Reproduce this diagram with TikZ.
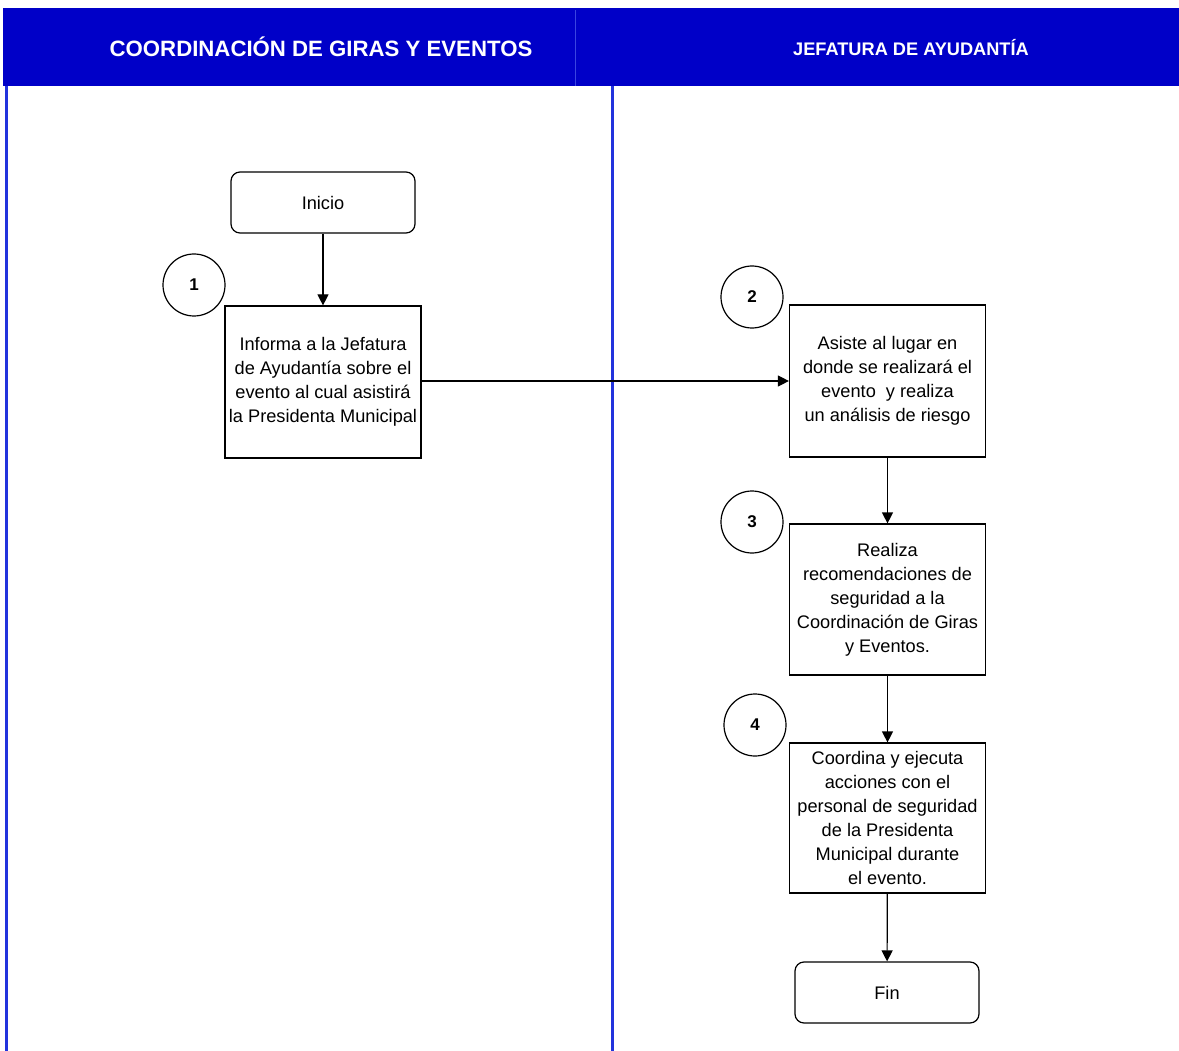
\documentclass[tikz,border=0pt]{standalone}
\usepackage{fontspec}
\setmainfont{Liberation Sans}
\usetikzlibrary{arrows.meta}
\definecolor{hdrblue}{HTML}{0000C8}
\definecolor{laneblue}{HTML}{2233DD}
\definecolor{sepblue}{HTML}{3A44E0}
\begin{document}
\begin{tikzpicture}[x=1pt,y=-1pt,
  stepbox/.style={draw,line width=1.2pt,minimum width=196pt,align=center,
    font=\fontsize{18.2}{24}\selectfont,inner sep=1pt},
  termbox/.style={draw,line width=1.2pt,rounded corners=9pt,minimum width=184pt,
    minimum height=61pt,font=\fontsize{18.2}{24}\selectfont},
  numcirc/.style={draw,circle,line width=1.2pt,minimum size=62pt,inner sep=0pt,
    font=\bfseries\fontsize{17}{20}\selectfont},
  flow/.style={line width=1.2pt,-{Triangle[length=11pt,width=11pt]}},
  hdrtext/.style={text=white,font=\bfseries\fontsize{#1}{24}\selectfont}]
  \useasboundingbox (0,0) rectangle (1179,1051);
  \fill[white] (0,0) rectangle (1179,1051);
  % lane headers
  \fill[hdrblue] (3,8) rectangle (1179,86);
  \draw[sepblue,line width=1pt] (575,10) -- (575,86);
  \node[hdrtext=22.2] (h1) at (321,47) {COORDINACIÓN DE GIRAS Y EVENTOS};
  \node[hdrtext=18.2] (h2) at (911,48) {JEFATURA DE AYUDANTÍA};
  % lane borders
  \draw[laneblue,line width=3pt] (6,86) -- (6,1051);
  \draw[laneblue,line width=3pt] (612,86) -- (612,1051);
  % steps
  \node[termbox] (ini) at (323,202.5) {Inicio};
  \node[stepbox,minimum height=152pt] (s1) at (323,382)
    {Informa a la Jefatura\\de Ayudantía sobre el\\evento al cual asistirá\\la Presidenta Municipal};
  \node[numcirc] (c1) at (194,285) {1};
  \node[stepbox,minimum height=152pt] (s2) at (887.5,381)
    {Asiste al lugar en\\donde se realizará el\\evento\ \ y realiza\\un análisis de riesgo};
  \node[numcirc] (c2) at (752,297) {2};
  \node[stepbox,minimum height=151pt] (s3) at (887.5,599.5)
    {Realiza\\recomendaciones de\\seguridad a la\\Coordinación de Giras\\y Eventos.};
  \node[numcirc] (c3) at (752,522) {3};
  \node[stepbox,minimum height=150pt] (s4) at (887.5,818)
    {Coordina y ejecuta\\acciones con el\\personal de seguridad\\de la Presidenta\\Municipal durante\\el evento.};
  \node[numcirc] (c4) at (755,725) {4};
  \node[termbox,minimum width=184pt] (fin) at (887,992.5) {Fin};
  % connectors
  \draw[flow] (ini) -- (s1);
  \draw[flow] (s1.east |- 0,381) -- (s2.west |- 0,381);
  \draw[flow] (s2) -- (s3);
  \draw[flow] (s3) -- (s4);
  \draw[flow] (s4) -- (fin);
\end{tikzpicture}
\end{document}
